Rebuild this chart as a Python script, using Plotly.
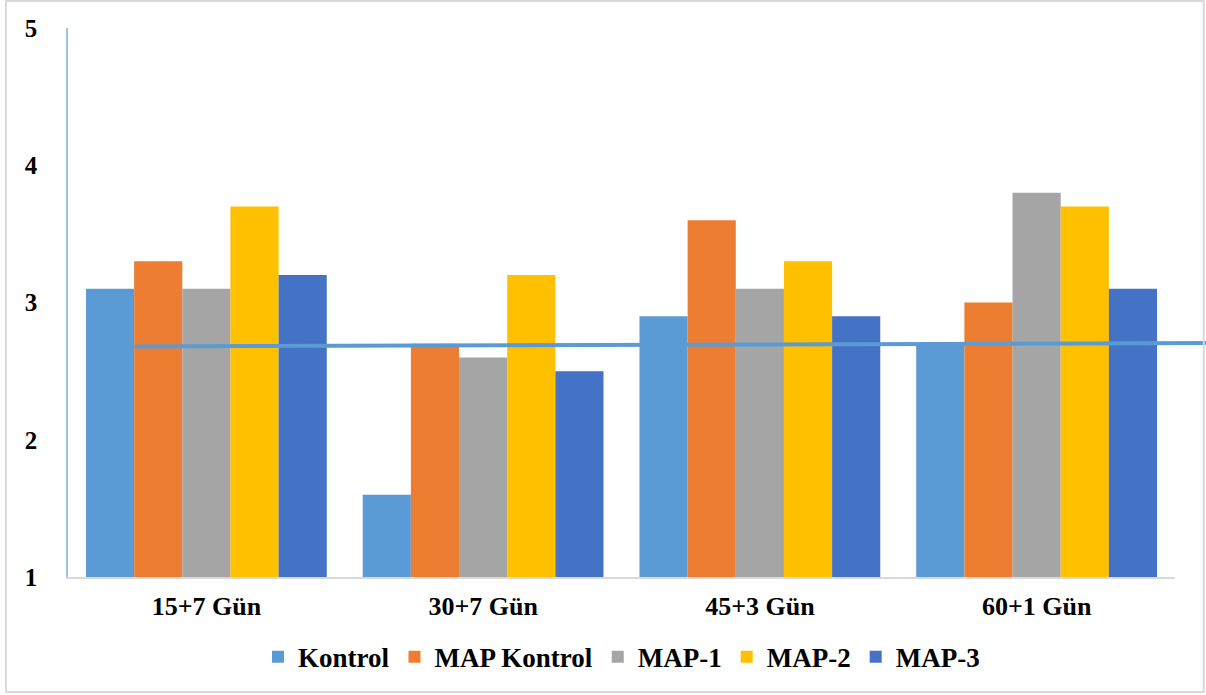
import plotly.graph_objects as go

# Groups on the x axis and the five treatment series
categories = ["15+7 Gün", "30+7 Gün", "45+3 Gün", "60+1 Gün"]
kontrol = [3.1, 1.6, 2.9, 2.7]
map_kontrol = [3.3, 2.7, 3.6, 3.0]
map_1 = [3.1, 2.6, 3.1, 3.8]
map_2 = [3.7, 3.2, 3.3, 3.7]
map_3 = [3.2, 2.5, 2.9, 3.1]

series_names = ["Kontrol", "MAP Kontrol", "MAP-1", "MAP-2", "MAP-3"]
series_values = [kontrol, map_kontrol, map_1, map_2, map_3]
series_colors = ["#5B9BD5", "#ED7D31", "#A5A5A5", "#FFC000", "#4472C4"]

# Reference level drawn across the groups
reference_level = 2.69
y_ticks = [1, 2, 3, 4, 5]

FONT = "Liberation Serif"

fig = go.Figure()
for name, vals, col in zip(series_names, series_values, series_colors):
    fig.add_trace(go.Bar(name=name, x=categories, y=vals, marker=dict(color=col, line=dict(width=0))))

fig.update_layout(
    width=1206,
    height=695,
    barmode="group",
    bargap=0.13,
    bargroupgap=0,
    plot_bgcolor="white",
    paper_bgcolor="white",
    margin=dict(l=68, r=31, t=28, b=118),
    font=dict(family=FONT, color="black"),
    showlegend=True,
    legend=dict(
        orientation="h",
        x=0.5,
        xanchor="center",
        y=-0.146,
        yanchor="middle",
        font=dict(family=FONT, size=27, color="black", weight="bold"),
        itemclick=False,
    ),
    xaxis=dict(
        showline=True,
        linecolor="#D9D9D9",
        linewidth=1.5,
        showgrid=False,
        ticks="",
        ticklabelstandoff=5,
        tickfont=dict(family=FONT, size=26, color="black", weight="bold"),
    ),
    yaxis=dict(
        range=[1, 5],
        tickvals=y_ticks,
        showline=True,
        linecolor="#9DC3E6",
        linewidth=1.5,
        showgrid=False,
        zeroline=False,
        ticks="",
        ticklabelstandoff=24,
        tickfont=dict(family=FONT, size=25, color="black", weight="bold"),
    ),
    shapes=[
        dict(
            type="line",
            xref="paper",
            yref="y",
            x0=0.06,
            x1=1.06,
            y0=reference_level - 0.01,
            y1=reference_level + 0.015,
            line=dict(color="#5B9BD5", width=4),
            layer="above",
        ),
        dict(
            type="rect",
            xref="paper",
            yref="paper",
            x0=-0.056,
            x1=1.026,
            y0=-0.2095,
            y1=1.049,
            line=dict(color="#D9D9D9", width=2),
            fillcolor="rgba(0,0,0,0)",
            layer="above",
        ),
    ],
)

fig.write_html("out.html")
